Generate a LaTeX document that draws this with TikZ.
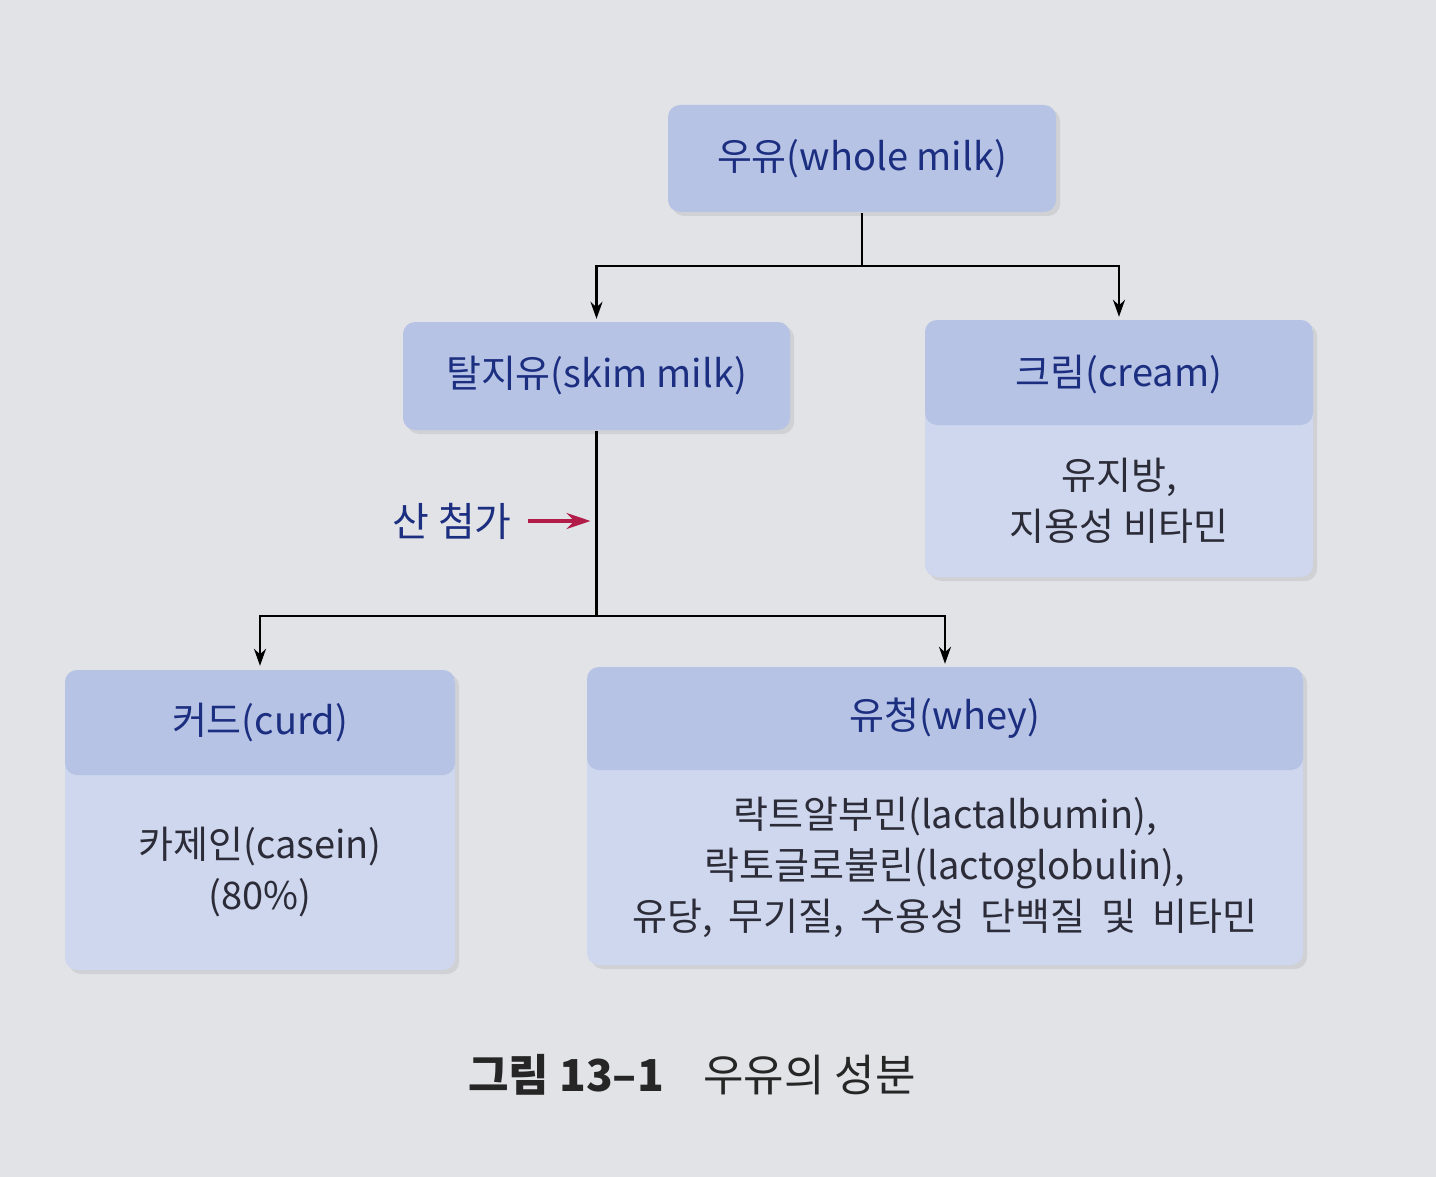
\documentclass[tikz,border=0pt]{standalone}
\usepackage{fontspec}
\setmainfont{Noto Sans CJK KR}
\usetikzlibrary{positioning,arrows.meta,shadows}
\definecolor{pagegray}{RGB}{226,227,231}
\definecolor{headblue}{RGB}{182,195,229}
\definecolor{bodyblue}{RGB}{206,215,238}
\definecolor{titlenavy}{RGB}{28,46,128}
\definecolor{bodyink}{RGB}{44,44,56}
\definecolor{acidred}{RGB}{178,28,72}
\newcommand{\widespaces}{\spaceskip=.42em\relax}

\begin{document}
\begin{tikzpicture}[x=1pt,y=-1pt]
\tikzset{
    every node/.style = {align=center, font=\fontsize{38}{51}\selectfont},
    every path/.style = {>={Stealth[length=17pt,width=12pt]}, line width=2.4pt},
    boxshadow/.style = {drop shadow={opacity=.18, shadow xshift=4pt, shadow yshift=-4pt}},
    titlebox/.style = {fill=headblue, rounded corners=12pt, boxshadow, text=titlenavy},
    splitbox/.style = {fill=bodyblue, rounded corners=12pt, boxshadow,
        path picture={\fill[headblue] (path picture bounding box.north west)
            rectangle ([yshift=-#1]path picture bounding box.north east);}},
    headtext/.style = {text=titlenavy, inner sep=0pt},
    bodytext/.style = {text=bodyink, inner sep=0pt}
}
\useasboundingbox (0,0) rectangle (1436,1177);
\fill[pagegray] (0,0) rectangle (1436,1177);

% -------------------------------------------------------
\node[titlebox, minimum width=388pt, minimum height=107pt] (whole) at (862,158.5) {우유(whole milk)};

\node[titlebox, minimum width=387pt, minimum height=108pt] (skim) at (596.5,376) {탈지유(skim milk)};

\node[splitbox=105pt, minimum width=388pt, minimum height=257pt] (cream) at (1119,448.5) {};
\node[headtext, below=0pt, minimum height=110pt] (creamhead) at (cream.north) {크림(cream)};
\node[bodytext, above=0pt, minimum height=152pt] (creamtext) at (cream.south) {유지방,\\지용성 비타민};

\node[splitbox=105pt, minimum width=390pt, minimum height=300pt] (curd) at (260,820) {};
\node[headtext, below=0pt, minimum height=105pt] (curdhead) at (curd.north) {커드(curd)};
\node[bodytext, above=0pt, minimum height=195pt] (curdtext) at (curd.south) {카제인(casein)\\(80\%)};

\node[splitbox=103pt, minimum width=716pt, minimum height=298pt] (whey) at (945,816) {};
\node[headtext, below=0pt, minimum height=103pt] (wheyhead) at (whey.north) {유청(whey)};
\node[bodytext, above=0pt, minimum height=195pt] (wheytext) at (whey.south) {락트알부민(lactalbumin),\\락토글로불린(lactoglobulin),\\\widespaces 유당, 무기질, 수용성 단백질 및 비타민};

\node[text=titlenavy, font=\fontsize{40}{51}\selectfont] (acid) at (452,521) {산 첨가};

\node[text=black!85, font=\fontsize{44}{52}\selectfont] (caption) at (692,1075) {\textbf{그림 13–1}\hspace{0.9em}우유의 성분};

% -------------------------------------------------------
\coordinate[below=53pt] (fork1) at (whole.south);
\coordinate[below=185pt] (fork2) at (skim.south);
\coordinate (acidend) at ([xshift=-6pt]skim.south |- acid);

\draw (whole.south) -- (fork1);
\draw[->, shorten >=2pt] (fork1) -| (skim.north);
\draw[->, shorten >=2pt] (fork1) -| (cream.north);

\draw (skim.south) -- (fork2);
\draw[->, shorten >=3pt] (fork2) -| (curd.north);
\draw[->, shorten >=2pt] (fork2) -| (whey.north);

\draw[->, acidred, line width=3.4pt, shorten <=12pt, >={Stealth[length=24pt,width=16pt]}] (acid.east) -- (acidend);
\end{tikzpicture}
\end{document}
